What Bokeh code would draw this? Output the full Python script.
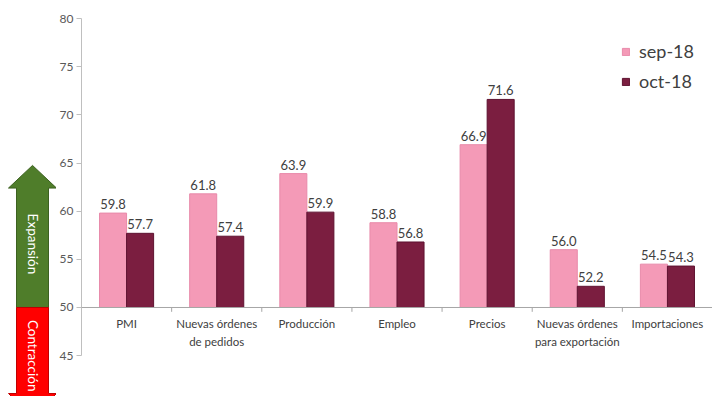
import math
from bokeh.plotting import figure
from bokeh.models import (Range1d, FactorRange, FixedTicker, Legend, LegendItem,
                          ColumnDataSource, LinearAxis, Span)
from bokeh.transform import dodge
from bokeh.layouts import row
from bokeh.core.properties import value
from bokeh.embed import file_html
from bokeh.resources import INLINE

# ---- data ----
categories = ["PMI", "Nuevas órdenes\nde pedidos", "Producción", "Empleo",
              "Precios", "Nuevas órdenes\npara exportación", "Importaciones"]
sep18 = [59.8, 61.8, 63.9, 58.8, 66.9, 56.0, 54.5]
oct18 = [57.7, 57.4, 59.9, 56.8, 71.6, 52.2, 54.3]
series_names = ["sep-18", "oct-18"]
y_ticks = [45, 50, 55, 60, 65, 70, 75, 80]
baseline = 50

# ---- styles ----
FONT = "Lato"
PINK = "#F49AB7"
PINK_EDGE = "#E88AAA"
MAROON = "#7B1E40"
MAROON_EDGE = "#5E1230"
TXT = "#404040"
AXIS_GREY = "#BFBFBF"

H = 396
y_range = Range1d(40.76, 81.87)

# ---- left strip with arrows ----
LW = 56
left = figure(width=LW, height=H, output_backend="svg", toolbar_location=None,
              x_range=Range1d(0, LW), y_range=y_range,
              min_border_left=0, min_border_right=0, min_border_top=0, min_border_bottom=0)
left.axis.visible = False
left.grid.visible = False
left.outline_line_color = None

cx = 32
shaft = 16
head = 24
green_x = [cx - shaft, cx - shaft, cx - head, cx, cx + head, cx + shaft, cx + shaft]
green_y = [50, 62.4, 62.4, 64.75, 62.4, 62.4, 50]
red_x = [cx - shaft, cx - shaft, cx - head, cx, cx + head, cx + shaft, cx + shaft]
red_y = [50, 41.07, 41.07, 38.6, 41.07, 41.07, 50]
left.patch(green_x, green_y, fill_color="#4F7D2A", line_color="#3C6120", line_width=1)
left.patch(red_x, red_y, fill_color="#FF0000", line_color="#C00000", line_width=1)
left.text(x=[cx, cx], y=[56.6, 45.0], text=["Expansión", "Contracción"],
          angle=-math.pi / 2, text_align="center", text_baseline="middle",
          text_color="white", text_font=value(FONT), text_font_size="13.5px")

# ---- main chart ----
p = figure(width=712 - LW, height=H, output_backend="svg", toolbar_location=None,
           x_range=FactorRange(*categories, range_padding=0), y_range=y_range,
           min_border_left=22, min_border_right=0, min_border_top=0, min_border_bottom=0,
           y_axis_location=None)
p.xaxis.visible = False
p.grid.visible = False
p.outline_line_color = None

yax = LinearAxis(bounds=(45, 80), ticker=FixedTicker(ticks=y_ticks))
yax.axis_line_color = AXIS_GREY
yax.major_tick_line_color = AXIS_GREY
yax.major_tick_out = 5
yax.major_tick_in = 0
yax.minor_tick_line_color = None
yax.major_label_standoff = 3
yax.major_label_text_font = FONT
yax.major_label_text_font_size = "12px"
yax.major_label_text_color = "#595959"
p.add_layout(yax, "left")

src = ColumnDataSource(dict(
    cat=categories, sep=sep18, oct=oct18,
    sep_lbl=[f"{v:.1f}" for v in sep18], oct_lbl=[f"{v:.1f}" for v in oct18],
    base=[baseline] * len(categories),
    tick_end=[baseline - 0.45] * len(categories),
))

bw = 0.3
r1 = p.vbar(x=dodge("cat", -bw / 2, range=p.x_range), top="sep", bottom="base",
            width=bw, source=src, fill_color=PINK, line_color=PINK_EDGE)
r2 = p.vbar(x=dodge("cat", bw / 2, range=p.x_range), top="oct", bottom="base",
            width=bw, source=src, fill_color=MAROON, line_color=MAROON_EDGE)

p.text(x=dodge("cat", -bw / 2, range=p.x_range), y="sep", text="sep_lbl", source=src,
       text_align="center", text_baseline="bottom", y_offset=-4,
       text_font=value(FONT), text_font_size="13px", text_color=TXT)
p.text(x=dodge("cat", bw / 2, range=p.x_range), y="oct", text="oct_lbl", source=src,
       text_align="center", text_baseline="bottom", y_offset=-4,
       text_font=value(FONT), text_font_size="13px", text_color=TXT)

# category axis crossing at 50
p.add_layout(Span(location=baseline, dimension="width", line_color="#A6A6A6", line_width=1))
p.segment(x0=dodge("cat", 0.5, range=p.x_range), x1=dodge("cat", 0.5, range=p.x_range),
          y0="base", y1="tick_end", source=src, line_color="#A6A6A6")
p.text(x="cat", y="base", text="cat", source=src, text_align="center",
       text_baseline="top", y_offset=10, text_line_height=1.35,
       text_font=value(FONT), text_font_size="11.5px", text_color=TXT)

legend = Legend(items=[LegendItem(label=series_names[0], renderers=[r1]),
                       LegendItem(label=series_names[1], renderers=[r2])],
                location=(540, 304), orientation="vertical")
legend.glyph_width = 9
legend.glyph_height = 9
legend.label_height = 20
legend.label_standoff = 9
legend.spacing = 8
legend.padding = 0
legend.margin = 0
legend.border_line_color = None
legend.background_fill_alpha = 0
legend.label_text_font = FONT
legend.label_text_font_size = "18px"
legend.label_text_color = TXT
p.add_layout(legend)

layout = row(left, p)
open("out.html", "w").write(file_html(layout, INLINE))
